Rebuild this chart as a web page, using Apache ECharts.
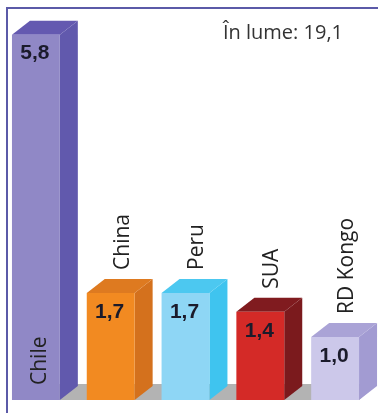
<!DOCTYPE html>
<html><head><meta charset="utf-8">
<script src="https://cdn.jsdelivr.net/npm/echarts@6/dist/echarts.min.js"></script>
<style>html,body{margin:0;padding:0;background:#fff}#c{width:378px;height:413px}</style>
</head><body><div id="c"></div>
<script>
const categories = ['Chile', 'China', 'Peru', 'SUA', 'RD Kongo'];
const values = [5.8, 1.7, 1.7, 1.4, 1.0];
const totalLabel = 'În lume: 19,1';
const frontColors = ['#9088c6', '#f28a21', '#8ed6f5', '#d42a27', '#ccc8ea'];
const sideColors = ['#6159ad', '#d4711d', '#3fc4ef', '#7b1a1d', '#a29bd2'];
const topColors = ['#6459b0', '#de7a20', '#4cc8f0', '#801b1f', '#aaa3d6'];

const DX = 18, DY = 14;
function fmt(v){ return v.toFixed(1).replace('.', ','); }

function renderItem(params, api) {
  const i = api.value(0), v = api.value(1);
  const t = api.coord([i, v]);
  const b = api.coord([i, 0]);
  const bw = api.size([1, 0])[0];
  const fw = bw * 0.64;
  const x0 = t[0] - bw * 0.34, x1 = x0 + fw;
  const yT = t[1], yB = b[1];
  const children = [];
  if (params.dataIndex === 0) {
    const l = api.coord([0, 0]), r = api.coord([categories.length - 1, 0]);
    const fl = l[0] - bw * 0.34, fr = r[0] - bw * 0.34 + fw;
    children.push({type: 'polygon', shape: {points: [[fl, yB], [fr, yB], [fr + DX, yB - 16], [fl + DX, yB - 16]]}, style: {fill: '#b3b3b3'}});
  }
  children.push({type: 'polygon', shape: {points: [[x1, yT], [x1 + DX, yT - DY], [x1 + DX, yB - DY], [x1, yB]]}, style: {fill: sideColors[i]}});
  children.push({type: 'polygon', shape: {points: [[x0, yT], [x0 + DX, yT - DY], [x1 + DX, yT - DY], [x1, yT]]}, style: {fill: topColors[i]}});
  children.push({type: 'rect', shape: {x: x0, y: yT, width: fw, height: yB - yT}, style: {fill: frontColors[i]}});
  children.push({type: 'text', x: (x0 + x1) / 2 - 1, y: yT + 19, style: {text: fmt(v), fontFamily: 'Liberation Sans, Arial', fontWeight: 'bold', fontSize: 21, fill: '#1b1b2b', align: 'center', verticalAlign: 'middle'}});
  const inside = v > 3;
  const lx = inside ? (x0 + x1) / 2 + 4 : (x0 + x1) / 2 + 12;
  const ly = inside ? yB - 15 : yT - DY - 9;
  children.push({type: 'text', x: lx, y: ly, rotation: Math.PI / 2, style: {text: categories[i], fontFamily: 'Open Sans', fontSize: 21, fill: '#222', align: 'left', verticalAlign: 'middle'}});
  return {type: 'group', children: children};
}

const chart = echarts.init(document.getElementById('c'));
chart.setOption({
  animation: false,
  title: {text: totalLabel, right: 30, top: 18, textStyle: {fontFamily: 'Open Sans', fontSize: 20, fontWeight: 'normal', color: '#333'}},
  grid: {left: -1, right: 4, top: 0, bottom: 13},
  xAxis: {type: 'category', data: categories, show: false},
  yAxis: {type: 'value', min: 0, max: 6.35, show: false},
  graphic: [
    {type: 'line', shape: {x1: 6, y1: 8, x2: 378, y2: 8}, style: {stroke: '#5b5aa8', lineWidth: 2}},
    {type: 'line', shape: {x1: 7, y1: 7, x2: 7, y2: 413}, style: {stroke: '#5b5aa8', lineWidth: 2}}
  ],
  series: [{type: 'custom', renderItem: renderItem, data: values.map((v, i) => [i, v])}]
});
</script></body></html>
